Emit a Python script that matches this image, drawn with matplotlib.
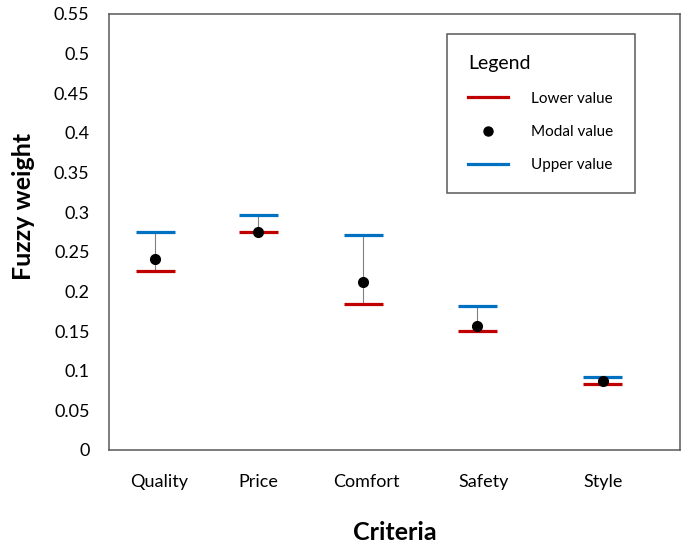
import matplotlib

matplotlib.use("Agg")

import matplotlib.pyplot as plt
from matplotlib.lines import Line2D


CRITERIA = ["Quality", "Price", "Comfort", "Safety", "Style"]
LOWER_VALUES = [0.226, 0.275, 0.184, 0.150, 0.083]
MODAL_VALUES = [0.241, 0.275, 0.212, 0.157, 0.087]
UPPER_VALUES = [0.275, 0.297, 0.271, 0.182, 0.092]
Y_TICKS = [0, 0.05, 0.1, 0.15, 0.2, 0.25, 0.3, 0.35, 0.4, 0.45, 0.5, 0.55]
Y_TICK_LABELS = ["0", "0.05", "0.1", "0.15", "0.2", "0.25", "0.3", "0.35", "0.4", "0.45", "0.5", "0.55"]

# horizontal layout of the categories, as spaced in the original chart
X_POSITIONS = [1, 2, 3.02, 4.13, 5.35]
LABEL_POSITIONS = [1.04, 2, 3.05, 4.19, 5.35]

RED = "#c00000"
BLUE = "#0070c0"
FRAME = "#595959"

plt.rcParams["font.family"] = ["Lato", "DejaVu Sans"]

fig = plt.figure(figsize=(6.88, 5.47), dpi=100)
ax = fig.add_axes([109 / 688, 97 / 547, 571 / 688, 436 / 547])

half = 0.19
ax.vlines(X_POSITIONS, LOWER_VALUES, UPPER_VALUES, color="#808080", linewidth=0.8, zorder=1)
ax.hlines(UPPER_VALUES, [x - half for x in X_POSITIONS], [x + half for x in X_POSITIONS],
          color=BLUE, linewidth=2.3, zorder=2)
ax.hlines(LOWER_VALUES, [x - half for x in X_POSITIONS], [x + half for x in X_POSITIONS],
          color=RED, linewidth=2.3, zorder=2)
ax.plot(X_POSITIONS, MODAL_VALUES, "o", color="black", markersize=7, zorder=3)

ax.set_xlim(0.55, 6.1)
ax.set_ylim(0, 0.55)
ax.set_yticks(Y_TICKS)
ax.set_yticklabels(Y_TICK_LABELS)
ax.set_xticks(LABEL_POSITIONS)
ax.set_xticklabels(CRITERIA)
ax.tick_params(axis="both", length=0, labelsize=13, colors="black")
ax.tick_params(axis="y", pad=14)
ax.tick_params(axis="x", pad=17)

for spine in ax.spines.values():
    spine.set_color(FRAME)
    spine.set_linewidth(1.1)

ax.set_xlabel("Criteria", fontsize=18, fontweight="bold", va="center")
ax.xaxis.set_label_coords((395 - 109) / 571, (450 - 533) / 436)
ax.set_ylabel("Fuzzy weight", fontsize=18, fontweight="bold", va="center")
ax.yaxis.set_label_coords((23 - 109) / 571, (450 - 206) / 436)

handles = [
    Line2D([], [], color=RED, linewidth=2.3),
    Line2D([], [], color="black", marker="o", markersize=6.5, linestyle="none"),
    Line2D([], [], color=BLUE, linewidth=2.3),
]
legend = ax.legend(
    handles,
    ["Lower value", "Modal value", "Upper value"],
    title="Legend",
    loc="upper left",
    bbox_to_anchor=(447 / 688, 1 - 34 / 547),
    bbox_transform=fig.transFigure,
    fontsize=11,
    title_fontsize=14,
    alignment="left",
    handlelength=2.6,
    handletextpad=1.5,
    labelspacing=1.25,
    borderpad=1.4,
    borderaxespad=0,
    fancybox=False,
    framealpha=1,
    edgecolor=FRAME,
)
legend.get_frame().set_linewidth(1.1)
legend._legend_box.sep = 14

fig.savefig("out.png", dpi=100)
